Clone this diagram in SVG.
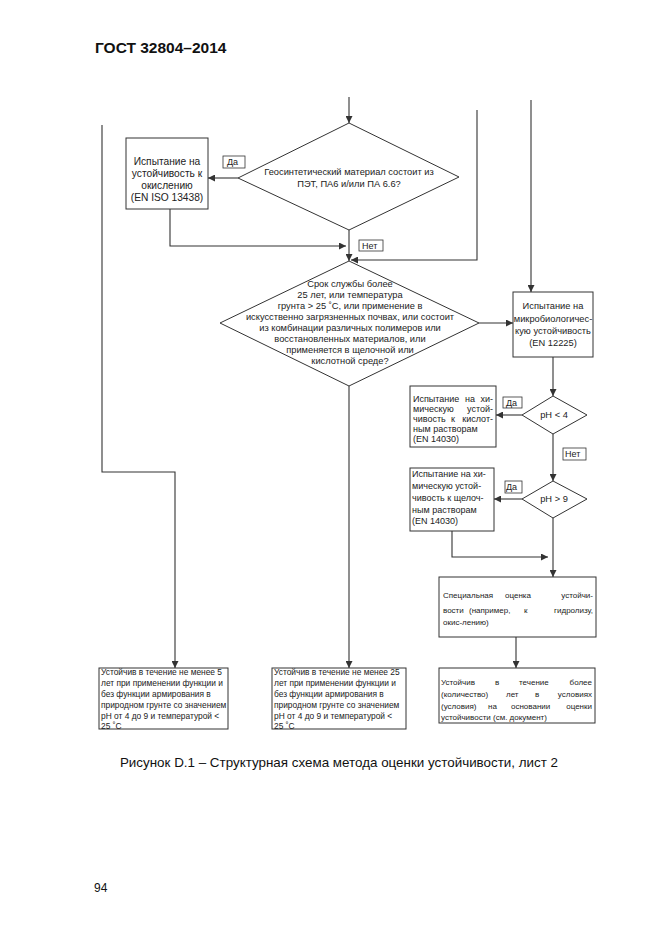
<svg xmlns="http://www.w3.org/2000/svg" width="661" height="935" viewBox="0 0 661 935">
<style>
text{font-family:"Liberation Sans",Arial,sans-serif;fill:#222;font-size:9px}
.c{text-anchor:middle}
.e{text-anchor:end}
.dt{font-size:9.3px}
.bx1{font-size:10.2px}
.sm{font-size:8.4px}
.s8{font-size:8px}
.box{fill:#fff;stroke:#333;stroke-width:1}
.lbl{fill:#fff;stroke:#333;stroke-width:0.8}
.ln{fill:none;stroke:#333;stroke-width:1.1}
.hdr{font-size:15.5px;font-weight:bold;fill:#111}
.cap{font-size:13.4px;fill:#111}
</style>
<defs>
<marker id="ar" viewBox="0 0 10 10" refX="10" refY="5" markerWidth="7" markerHeight="7" markerUnits="userSpaceOnUse" orient="auto">
<path d="M0,0 L10,5 L0,10 z" fill="#333"/>
</marker>
</defs>
<rect width="661" height="935" fill="#fff"/>
<text class="hdr" x="95" y="53">ГОСТ 32804–2014</text>

<g id="connectors">
<path class="ln" d="M349,97 V123" marker-end="url(#ar)"/>
<path class="ln" d="M238,178 H208" marker-end="url(#ar)"/>
<path class="ln" d="M170,209 V246 H346" marker-end="url(#ar)"/>
<path class="ln" d="M349,230 V261" marker-end="url(#ar)"/>
<path class="ln" d="M477,110 V260 H351" marker-end="url(#ar)"/>
<path class="ln" d="M102,125 V472 H175 V668" marker-end="url(#ar)"/>
<path class="ln" d="M531,100 V292" marker-end="url(#ar)"/>
<path class="ln" d="M479,323 H513" marker-end="url(#ar)"/>
<path class="ln" d="M349,386 V668" marker-end="url(#ar)"/>
<path class="ln" d="M553,357 V396" marker-end="url(#ar)"/>
<path class="ln" d="M522,415 H496" marker-end="url(#ar)"/>
<path class="ln" d="M553,434 V481" marker-end="url(#ar)"/>
<path class="ln" d="M522,499 H494" marker-end="url(#ar)"/>
<path class="ln" d="M452,531 V557 H548" marker-end="url(#ar)"/>
<path class="ln" d="M553,518 V577" marker-end="url(#ar)"/>
<path class="ln" d="M516,637 V668" marker-end="url(#ar)"/>
</g>

<g id="d1">
<polygon class="box" points="349,123 459,177 349,230 238,178"/>
<text class="c dt" x="349" y="175">Геосинтетический материал состоит из</text>
<text class="c dt" x="349" y="187">ПЭТ, ПА6 и/или ПА 6.6?</text>
</g>
<g id="lbl-da1"><rect class="lbl" x="223" y="156" width="22" height="12"/><text x="227" y="165">Да</text></g>
<g id="lbl-net1"><rect class="lbl" x="359" y="240" width="24" height="11"/><text x="362" y="249">Нет</text></g>

<g id="box-ox">
<rect class="box" x="126" y="138" width="82" height="71"/>
<text class="c bx1" x="167" y="165">Испытание на</text>
<text class="c bx1" x="167" y="177">устойчивость к</text>
<text class="c bx1" x="167" y="189">окислению</text>
<text class="c bx1" x="167" y="201">(EN ISO 13438)</text>
</g>

<g id="d2">
<polygon class="box" points="349,261 479,323 349,386 220,323"/>
<text class="c dt" x="350" y="287">Срок службы более</text>
<text class="c dt" x="350" y="298">25 лет, или температура</text>
<text class="c dt" x="350" y="309">грунта &gt; 25 ˚C, или применение в</text>
<text class="c dt" x="350" y="320">искусственно загрязненных почвах, или состоит</text>
<text class="c dt" x="350" y="331">из комбинации различных полимеров или</text>
<text class="c dt" x="350" y="342">восстановленных материалов, или</text>
<text class="c dt" x="350" y="353">применяется в щелочной или</text>
<text class="c dt" x="350" y="364">кислотной среде?</text>
</g>

<g id="box-micro">
<rect class="box" x="513" y="292" width="80" height="65"/>
<text class="c dt" x="553" y="309">Испытание на</text>
<text class="c dt" x="553" y="322">микробиологичес-</text>
<text class="c dt" x="553" y="334">кую устойчивость</text>
<text class="c dt" x="553" y="346">(EN 12225)</text>
</g>

<g id="d-ph4">
<polygon class="box" points="553,396 587,415 553,434 522,415"/>
<text class="c dt" x="554" y="418">pH &lt; 4</text>
</g>
<g id="lbl-da2"><rect class="lbl" x="503" y="397" width="19" height="11"/><text x="506" y="406">Да</text></g>
<g id="lbl-net2"><rect class="lbl" x="563" y="448" width="23" height="12"/><text x="565" y="457">Нет</text></g>

<g id="box-acid">
<rect class="box" x="410" y="386" width="86" height="61"/>
<text x="413" y="402">Испытание</text><text x="465" y="402">на</text><text class="e" x="493" y="402">хи-</text>
<text x="413" y="412">мическую</text><text class="e" x="493" y="412">устой-</text>
<text x="413" y="422">чивость</text><text x="451" y="422">к</text><text class="e" x="493" y="422">кислот-</text>
<text x="413" y="432">ным растворам</text>
<text x="413" y="442">(EN 14030)</text>
</g>

<g id="d-ph9">
<polygon class="box" points="553,481 587,499 553,518 522,499"/>
<text class="c dt" x="554" y="502">pH &gt; 9</text>
</g>
<g id="lbl-da3"><rect class="lbl" x="505" y="481" width="17" height="12"/><text x="506" y="490">Да</text></g>

<g id="box-alk">
<rect class="box" x="410" y="468" width="84" height="63"/>
<text x="412" y="477">Испытание на хи-</text>
<text x="412" y="489">мическую устой-</text>
<text x="412" y="501">чивость к щелоч-</text>
<text x="412" y="513">ным растворам</text>
<text x="412" y="524">(EN 14030)</text>
</g>

<g id="box-special">
<rect class="box" x="439" y="577" width="157" height="60"/>
<text class="s8" x="443" y="598">Специальная</text><text class="s8" x="505" y="598">оценка</text><text class="s8 e" x="593" y="598">устойчи-</text>
<text class="s8" x="443" y="613">вости</text><text class="s8" x="469" y="613">(например,</text><text class="s8" x="524" y="613">к</text><text class="s8 e" x="593" y="613">гидролизу,</text>
<text class="s8" x="443" y="625">окис-лению)</text>
</g>

<g id="box-res1">
<rect class="box" x="99" y="668" width="129" height="61"/>
<text class="sm" x="101" y="675">Устойчив в течение не менее 5</text>
<text class="sm" x="101" y="686">лет при применении функции и</text>
<text class="sm" x="101" y="697">без функции армирования в</text>
<text class="sm" x="101" y="708">природном грунте со значением</text>
<text class="sm" x="101" y="719">pH  от 4 до 9 и температурой &lt;</text>
<text class="sm" x="101" y="729">25 ˚C</text>
</g>

<g id="box-res2">
<rect class="box" x="272" y="668" width="134" height="61"/>
<text class="sm" x="274" y="675">Устойчив в течение не менее 25</text>
<text class="sm" x="274" y="686">лет при применении функции и</text>
<text class="sm" x="274" y="697">без функции армирования в</text>
<text class="sm" x="274" y="708">природном грунте со значением</text>
<text class="sm" x="274" y="719">pH  от 4 до 9 и температурой &lt;</text>
<text class="sm" x="274" y="729">25 ˚C</text>
</g>

<g id="box-res3">
<rect class="box" x="439" y="668" width="156" height="55"/>
<text class="s8" x="441" y="685">Устойчив</text><text class="s8" x="495" y="685">в</text><text class="s8" x="519" y="685">течение</text><text class="s8 e" x="592" y="685">более</text>
<text class="s8" x="441" y="697">(количество)</text><text class="s8" x="506" y="697">лет</text><text class="s8" x="535" y="697">в</text><text class="s8 e" x="592" y="697">условиях</text>
<text class="s8" x="441" y="709">(условия)</text><text class="s8" x="488" y="709">на</text><text class="s8" x="511" y="709">основании</text><text class="s8 e" x="592" y="709">оценки</text>
<text class="s8" x="441" y="720">устойчивости (см. документ)</text>
</g>

<text class="cap c" x="339" y="767">Рисунок D.1 – Структурная схема метода оценки устойчивости, лист 2</text>
<text x="94" y="892" style="font-size:12px;fill:#111">94</text>
</svg>
